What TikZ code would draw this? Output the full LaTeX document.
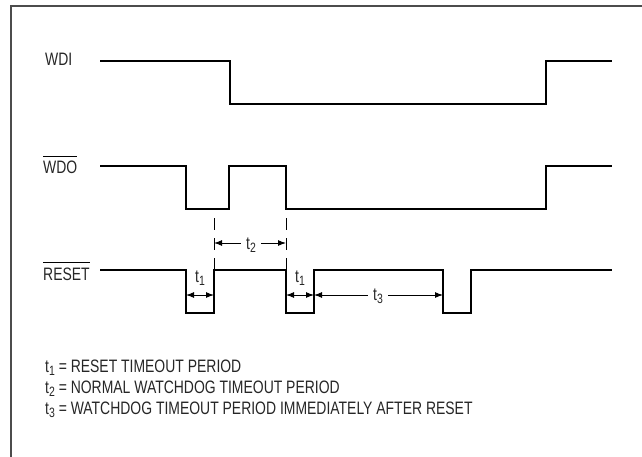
\documentclass[tikz,border=0pt]{standalone}
\usepackage{fontspec}
\setmainfont{Liberation Sans}[FakeStretch=0.775]
\usetikzlibrary{arrows.meta}
\newcommand\tsubx[1]{\raisebox{-3.5pt}{\fontsize{13.5}{13.5}\selectfont #1}}
\begin{document}
\begin{tikzpicture}[x=1pt,y=-1pt,
  wave/.style={line width=1.6pt, line join=miter, line cap=butt},
  lbl/.style={inner sep=0pt, anchor=base west, font=\fontsize{18}{21}\selectfont, text=black!85},
  tlbl/.style={inner ysep=0pt, inner xsep=5pt, anchor=base, font=\fontsize{18}{21}\selectfont, text=black!85},
  dimboth/.style={line width=1pt, {Latex[length=8pt,width=6pt]}-{Latex[length=8pt,width=6pt]}},
  dimtip/.style={line width=1pt, -{Latex[length=8pt,width=6pt]}},
  guide/.style={line width=1pt, dash pattern=on 12pt off 8pt},
  ovl/.style={line width=1.3pt}]
\useasboundingbox (0,0) rectangle (642,457);
% frame
\draw[line width=2pt, black!70] (11,457) -- (11,6) -- (642,6);

% signal labels
\node[lbl] (wdi) at (45,65.5) {WDI};
\node[lbl] (wdo) at (43,174) {WDO};
\node[lbl] (rst) at (43,280) {RESET};
\draw[ovl] ([yshift=5pt]wdo.north west) -- ([yshift=5pt]wdo.north east);
\draw[ovl] ([yshift=5pt]rst.north west) -- ([yshift=5pt]rst.north east);

% waveforms
\draw[wave] (100,61) -- (230,61) -- (230,104) -- (546,104) -- (546,61) -- (612,61);
\draw[wave] (100,166) -- (186,166) -- (186,209) -- (229,209) -- (229,166) -- (286,166)
  -- (286,209) -- (546,209) -- (546,166) -- (612,166);
\draw[wave] (100,270) -- (186,270) -- (186,313) -- (214,313) -- (214,270) -- (286,270)
  -- (286,313) -- (314,313) -- (314,270) -- (443,270) -- (443,313) -- (471,313)
  -- (471,270) -- (612,270);

% guides
\coordinate (g1t) at (214,218); \coordinate (g1b) at (214,270);
\coordinate (g2t) at (286,218); \coordinate (g2b) at (286,270);
\draw[guide] (g1t) -- (g1b);
\draw[guide] (g2t) -- (g2b);

% t2
\coordinate (a2l) at (214,243); \coordinate (a2r) at (286,243);
\node[tlbl] (t2) at (251,249) {t\tsubx{2}};
\draw[dimtip] (t2.west |- a2l) -- (a2l);
\draw[dimtip] (t2.east |- a2r) -- (a2r);

% t1
\coordinate (a1l) at (186,295); \coordinate (a1r) at (214,295);
\coordinate (b1l) at (286,295); \coordinate (b1r) at (314,295);
\draw[dimboth] (a1l) -- (a1r);
\draw[dimboth] (b1l) -- (b1r);
\node[tlbl] (t1a) at (200,282) {t\tsubx{1}};
\node[tlbl] (t1b) at (300,282) {t\tsubx{1}};

% t3
\coordinate (a3l) at (314,295); \coordinate (a3r) at (443,295);
\node[tlbl] (t3) at (378,300) {t\tsubx{3}};
\draw[dimtip] (t3.west |- a3l) -- (a3l);
\draw[dimtip] (t3.east |- a3r) -- (a3r);

% legend
\node[lbl] (l1) at (45,372) {t\tsubx{1} = RESET TIMEOUT PERIOD};
\node[lbl] (l2) at (45,393) {t\tsubx{2} = NORMAL WATCHDOG TIMEOUT PERIOD};
\node[lbl] (l3) at (45,414) {t\tsubx{3} = WATCHDOG TIMEOUT PERIOD IMMEDIATELY AFTER RESET};
\end{tikzpicture}
\end{document}
